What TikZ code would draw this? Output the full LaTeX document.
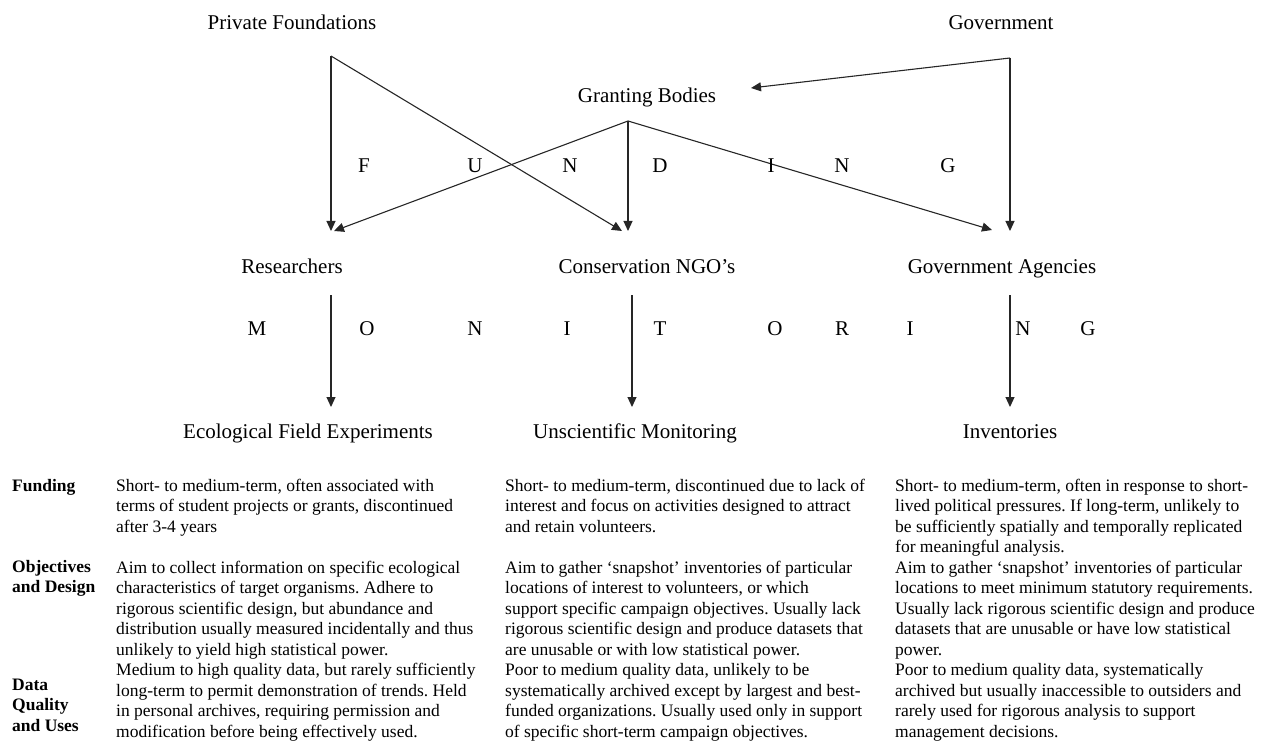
\documentclass[tikz,border=0pt]{standalone}
\usepackage{fontspec}
\setmainfont{Liberation Serif}
\usetikzlibrary{arrows.meta}
\frenchspacing
\begin{document}
\begin{tikzpicture}[x=1pt,y=-1pt,
  lbl/.style={font=\fontsize{21}{25}\selectfont, inner sep=0pt, anchor=base},
  body/.style={font=\fontsize{17.5}{20.5}\selectfont\frenchspacing, inner sep=0pt, anchor=north west, align=left},
  head/.style={body, font=\bfseries\fontsize{17.5}{20.5}\selectfont},
  conn/.style={line width=1.1pt, draw=black!85},
  arr/.style={conn, -{Triangle[length=10pt,width=9pt]}}]
\useasboundingbox (0,0) rectangle (1261,746);

% actor labels
\node[lbl] (pf)  at (292,30)  {Private Foundations};
\node[lbl] (gb)  at (647,103) {Granting Bodies};
\node[lbl] (gov) at (1001,30) {Government};
\node[lbl] (res) at (292,273) {Researchers};
\node[lbl] (ngo) at (647,273) {Conservation NGO’s};
\node[lbl] (ga)  at (1002,273) {Government Agencies};
\node[lbl] (efe) at (308,438) {Ecological Field Experiments};
\node[lbl] (um)  at (635,438) {Unscientific Monitoring};
\node[lbl] (inv) at (1010,438) {Inventories};

% connector end points
\coordinate (pfS)  at (331,56);
\coordinate (gbS)  at (628,121);
\coordinate (govS) at (1010,58);
\coordinate (resT) at (331,231);
\coordinate (resT2) at (334,231);
\coordinate (ngoT) at (628,231);
\coordinate (ngoT2) at (622,231);
\coordinate (gaT)  at (1010,231);
\coordinate (gaT2) at (992,230);
\coordinate (gbT)  at (751,88);
\coordinate (resM) at (331,295);
\coordinate (efeT) at (331,407);
\coordinate (ngoM) at (632,295);
\coordinate (umT)  at (632,407);
\coordinate (gaM)  at (1010,295);
\coordinate (invT) at (1010,407);

% funding arrows
\draw[arr] (pfS) -- (resT);
\draw[arr] (pfS) -- (ngoT2);
\draw[arr] (gbS) -- (resT2);
\draw[arr] (gbS) -- (ngoT);
\draw[arr] (gbS) -- (gaT2);
\draw[arr] (govS) -- (gbT);
\draw[arr] (govS) -- (gaT);

% monitoring arrows
\draw[arr] (resM) -- (efeT);
\draw[arr] (ngoM) -- (umT);
\draw[arr] (gaM) -- (invT);

% FUNDING letters
\node[lbl] (f1) at (364,173) {F};
\node[lbl] (f2) at (475,173) {U};
\node[lbl] (f3) at (570,173) {N};
\node[lbl] (f4) at (660,173) {D};
\node[lbl] (f5) at (771,173) {I};
\node[lbl] (f6) at (842,173) {N};
\node[lbl] (f7) at (948,173) {G};

% MONITORING letters
\node[lbl] (m1)  at (257,335) {M};
\node[lbl] (m2)  at (367,335) {O};
\node[lbl] (m3)  at (475,335) {N};
\node[lbl] (m4)  at (567,335) {I};
\node[lbl] (m5)  at (660,335) {T};
\node[lbl] (m6)  at (775,335) {O};
\node[lbl] (m7)  at (842,335) {R};
\node[lbl] (m8)  at (910,335) {I};
\node[lbl] (m9)  at (1023,335) {N};
\node[lbl] (m10) at (1088,335) {G};

% row headings
\node[head] (hF) at (12,477) {\rule{0pt}{14pt}Funding};
\node[head] (hO) at (12,558) {\rule{0pt}{14pt}Objectives\\and Design};
\node[head] (hD) at (12,676) {\rule{0pt}{14pt}Data\\Quality\\and Uses};

% column texts
\node[body] (c1) at (116,477) {\rule{0pt}{14pt}Short- to medium-term, often associated with\\
terms of student projects or grants, discontinued\\
after 3-4 years\\[20.5pt]
Aim to collect information on specific ecological\\
characteristics of target organisms. Adhere to\\
rigorous scientific design, but abundance and\\
distribution usually measured incidentally and thus\\
unlikely to yield high statistical power.\\
Medium to high quality data, but rarely sufficiently\\
long-term to permit demonstration of trends. Held\\
in personal archives, requiring permission and\\
modification before being effectively used.};

\node[body] (c2) at (505,477) {\rule{0pt}{14pt}Short- to medium-term, discontinued due to lack of\\
interest and focus on activities designed to attract\\
and retain volunteers.\\[20.5pt]
Aim to gather ‘snapshot’ inventories of particular\\
locations of interest to volunteers, or which\\
support specific campaign objectives. Usually lack\\
rigorous scientific design and produce datasets that\\
are unusable or with low statistical power.\\
Poor to medium quality data, unlikely to be\\
systematically archived except by largest and best-\\
funded organizations. Usually used only in support\\
of specific short-term campaign objectives.};

\node[body] (c3) at (895,477) {\rule{0pt}{14pt}Short- to medium-term, often in response to short-\\
lived political pressures. If long-term, unlikely to\\
be sufficiently spatially and temporally replicated\\
for meaningful analysis.\\
Aim to gather ‘snapshot’ inventories of particular\\
locations to meet minimum statutory requirements.\\
Usually lack rigorous scientific design and produce\\
datasets that are unusable or have low statistical\\
power.\\
Poor to medium quality data, systematically\\
archived but usually inaccessible to outsiders and\\
rarely used for rigorous analysis to support\\
management decisions.};
\end{tikzpicture}
\end{document}
